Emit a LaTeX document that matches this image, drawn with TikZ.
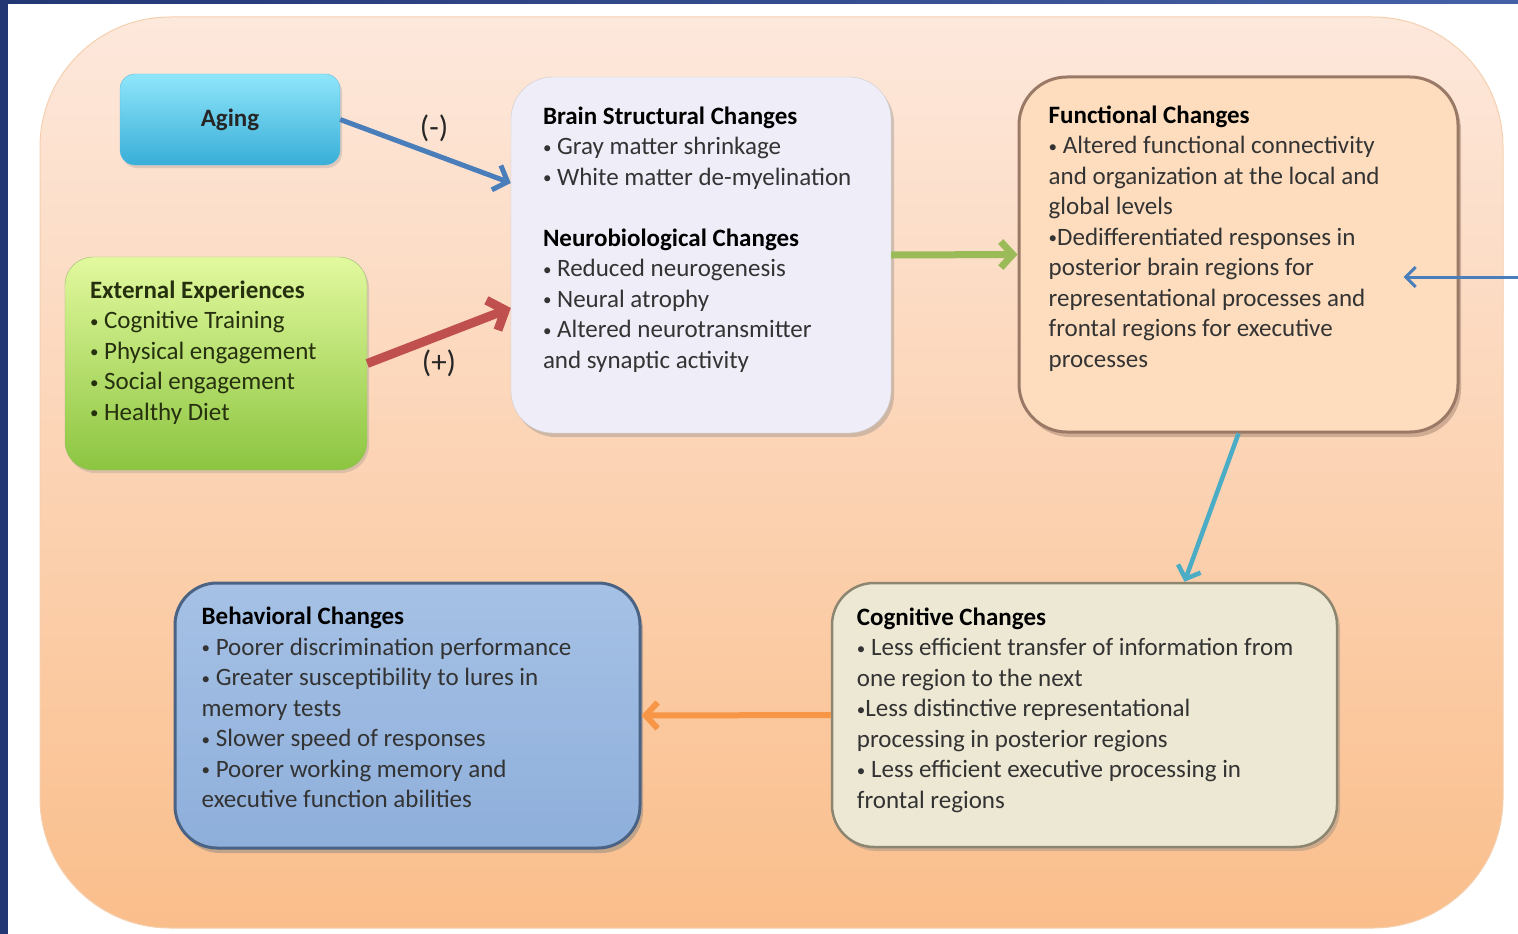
\documentclass[tikz,border=0pt]{standalone}
\usepackage{fontspec}
\setmainfont{Carlito}
\usetikzlibrary{arrows.meta,shadows}
\definecolor{navyL}{HTML}{243775}
\definecolor{navyR}{HTML}{4561A6}
\definecolor{frameT}{HTML}{FDE8DC}
\definecolor{frameB}{HTML}{FABE8B}
\definecolor{agingT}{HTML}{90E6FA}
\definecolor{agingB}{HTML}{38AED8}
\definecolor{extT}{HTML}{E2F99E}
\definecolor{extB}{HTML}{8CC540}
\definecolor{brainF}{HTML}{EFEDF8}
\definecolor{funcF}{HTML}{FDDDBE}
\definecolor{funcD}{HTML}{9A7A66}
\definecolor{cogF}{HTML}{EDE8D3}
\definecolor{cogD}{HTML}{8C8670}
\definecolor{behT}{HTML}{A6C1E5}
\definecolor{behB}{HTML}{8EAFDB}
\definecolor{behD}{HTML}{4A6283}
\definecolor{textgray}{HTML}{333333}
\definecolor{extText}{HTML}{26300F}
\definecolor{arrBlue}{HTML}{4A7EBB}
\definecolor{arrRed}{HTML}{C0504D}
\definecolor{arrGreen}{HTML}{9BBB59}
\definecolor{arrTeal}{HTML}{4BACC6}
\definecolor{arrOrange}{HTML}{F79646}
\newcommand\bul{\raisebox{1.5pt}{\fontsize{17}{17}\selectfont•}}
\begin{document}
\begin{tikzpicture}[x=1pt,y=-1pt,>={Straight Barb[length=10pt,width=20pt]},
  box/.style={rounded corners=42pt,inner sep=0pt},
  txt/.style={anchor=north west,align=left,inner sep=0pt,text=textgray,
    font=\fontsize{25}{30.5}\selectfont},
  sign/.style={font=\fontsize{31}{31}\selectfont,text=black!85}]
\useasboundingbox (0,0) rectangle (1518,934);
\fill[white] (0,0) rectangle (1518,934);
\fill[left color=navyL,right color=navyR] (0,0) rectangle (1518,4);
\fill[navyL] (0,0) rectangle (8,934);
% background panel
\node[box,rounded corners=130pt,minimum width=1463pt,minimum height=911pt,
  top color=frameT,bottom color=frameB,draw=frameB!80!brown!60,line width=1pt]
  (frame) at (771.5,472.5) {};
% boxes
\node[box,rounded corners=15pt,minimum width=220pt,minimum height=91pt,
  top color=agingT,bottom color=agingB,draw=agingB!80,
  drop shadow={shadow xshift=2pt,shadow yshift=-3pt,opacity=.25},
  font=\fontsize{25}{30}\selectfont\bfseries,text=black!85] (aging) at (230,119.5) {Aging};
\node[box,rounded corners=28pt,minimum width=302pt,minimum height=213pt,
  top color=extT,bottom color=extB,draw=extB!80!black!70,
  drop shadow={shadow xshift=2pt,shadow yshift=-3pt,opacity=.25}] (ext) at (216,363.5) {};
\node[box,minimum width=380pt,minimum height=356pt,fill=brainF,draw=gray!40,
  drop shadow={shadow xshift=3pt,shadow yshift=-4pt,opacity=.35}] (brain) at (701,255) {};
\node[box,rounded corners=48pt,minimum width=439pt,minimum height=355pt,fill=funcF,
  draw=funcD,line width=3pt,
  drop shadow={shadow xshift=3pt,shadow yshift=-5pt,opacity=.45,fill=funcD}] (func) at (1238.5,254.5) {};
\node[box,minimum width=505pt,minimum height=264pt,fill=cogF,draw=cogD,line width=2.5pt,
  drop shadow={shadow xshift=3pt,shadow yshift=-4pt,opacity=.35}] (cog) at (1084.5,715) {};
\node[box,minimum width=465pt,minimum height=265pt,top color=behT,bottom color=behB,
  draw=behD,line width=3pt,
  drop shadow={shadow xshift=3pt,shadow yshift=-5pt,opacity=.45}] (beh) at (407.5,715.5) {};
% texts
\node[txt,text=extText] (exttxt) at ([shift={(25,23.5)}]ext.north west)
  {\textbf{External Experiences}\\ \bul{} Cognitive Training\\ \bul{} Physical engagement\\
   \bul{} Social engagement\\ \bul{} Healthy Diet};
\node[txt] (braintxt) at ([shift={(32,29.5)}]brain.north west)
  {\textbf{\color{black}Brain Structural Changes}\\ \bul{} Gray matter shrinkage\\
   \bul{} White matter de-myelination\\[30.5pt]
   \textbf{\color{black}Neurobiological Changes}\\ \bul{} Reduced neurogenesis\\ \bul{} Neural atrophy\\
   \bul{} Altered neurotransmitter\\ and synaptic activity};
\node[txt] (functxt) at ([shift={(31,30)}]func.north west)
  {\textbf{\color{black}Functional Changes}\\ \bul{} Altered functional connectivity\\
   and organization at the local and\\ global levels\\ \bul Dedifferentiated responses in\\
   posterior brain regions for\\ representational processes and\\
   frontal regions for executive\\ processes};
\node[txt] (cogtxt) at ([shift={(26,25.5)}]cog.north west)
  {\textbf{\color{black}Cognitive Changes}\\ \bul{} Less efficient transfer of information from\\
   one region to the next\\ \bul Less distinctive representational\\
   processing in posterior regions\\ \bul{} Less efficient executive processing in\\
   frontal regions};
\node[txt] (behtxt) at ([shift={(28,25.5)}]beh.north west)
  {\textbf{\color{black}Behavioral Changes}\\ \bul{} Poorer discrimination performance\\
   \bul{} Greater susceptibility to lures in\\ memory tests\\ \bul{} Slower speed of responses\\
   \bul{} Poorer working memory and\\ executive function abilities};
% connectors
\coordinate (side) at (1518,277);
\draw[-{Straight Barb[length=12pt,width=26pt]},arrBlue,line width=5pt] (aging.east) -- node[sign,pos=.55,above=7pt]{(-)} ([yshift=72pt]brain.west);
\draw[-{Straight Barb[length=14pt,width=32pt]},arrRed,line width=9pt] (ext.east) -- node[sign,midway,below=6pt]{(+)} ([yshift=-53pt]brain.west);
\draw[-{Straight Barb[length=12pt,width=26pt]},arrGreen,line width=7pt] (brain.east) -- (func.west);
\draw[-{Straight Barb[length=11pt,width=24pt]},arrTeal,line width=4.5pt] (func.south) -- ([xshift=100pt]cog.north);
\draw[-{Straight Barb[length=12pt,width=26pt]},arrOrange,line width=6pt] (cog.west) -- (beh.east);
\draw[->,arrBlue,line width=3pt] (side) -- ([shift={(-56,22.5)}]func.east);
\end{tikzpicture}
\end{document}
